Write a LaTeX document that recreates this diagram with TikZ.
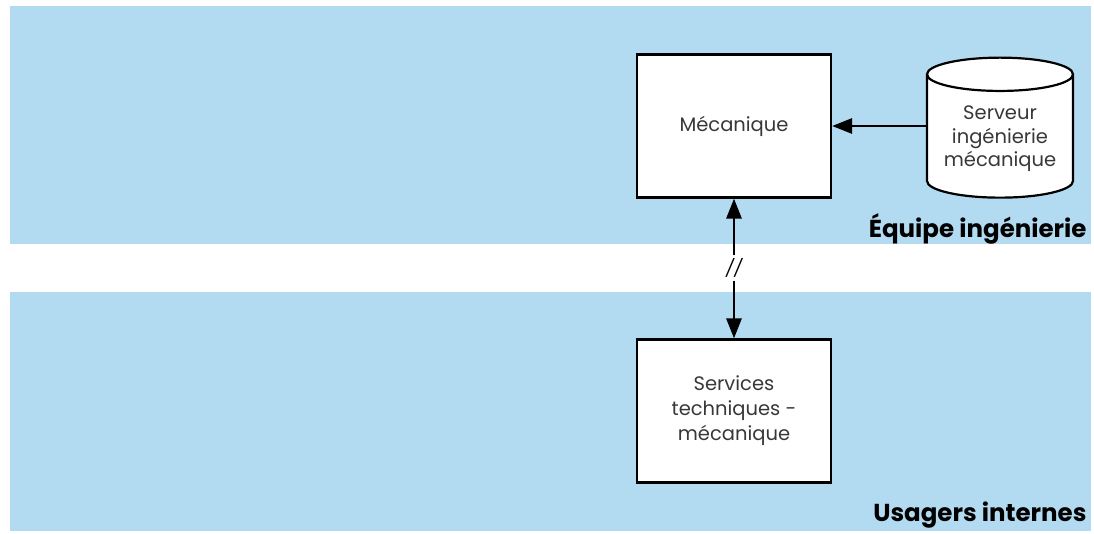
\documentclass[tikz,border=0pt]{standalone}
\usepackage{fontspec}
\setmainfont{Poppins}
\usepackage{tikz}
\usetikzlibrary{arrows.meta,positioning,shapes.geometric}
\definecolor{bandblue}{HTML}{B2DAF0}

\begin{document}
\begin{tikzpicture}[x=1pt, y=-1pt,
    band/.style={fill=bandblue, draw=none},
    sysbox/.style={rectangle, draw=black, fill=white, line width=2.2pt,
                   minimum width=194pt, minimum height=143pt, align=center,
                   font=\fontsize{19.5}{25}\selectfont, text=black!78},
    dbcyl/.style={cylinder, shape border rotate=90, draw=black, fill=white, line width=2.2pt,
                  aspect=0.28, minimum width=146pt, minimum height=140pt, align=center,
                  font=\fontsize{19.5}{23.5}\selectfont, text=black!78},
    arr/.style={-{Triangle[length=20pt, width=15pt]}, line width=2.8pt},
    bandlbl/.style={font=\fontsize{24.5}{28}\selectfont\bfseries, anchor=east}
]
\useasboundingbox (0,0) rectangle (1094,533);

% Bands
\fill[band] (10,6) rectangle (1091,244);
\fill[band] (10,292) rectangle (1091,531);

\node[sysbox] (mec) at (734,126) {Mécanique};
\node[dbcyl] (srv) at (1000,139) {Serveur\\ingénierie\\mécanique};
\node[sysbox] (svc) at (734,411) {Services\\techniques -\\mécanique};
\node[font=\fontsize{17}{19}\selectfont\itshape, inner sep=3pt] (brk) at (734,268) {//};

\draw[arr] (srv.west |- mec.east) -- (mec.east);
\draw[arr] (brk.north) -- (mec.south);
\draw[arr] (brk.south) -- (svc.north);

% Band labels
\node[bandlbl] (eqlbl) at (1090,229) {Équipe ingénierie};
\node[bandlbl] (uslbl) at (1090,515) {Usagers internes};
\end{tikzpicture}
\end{document}
